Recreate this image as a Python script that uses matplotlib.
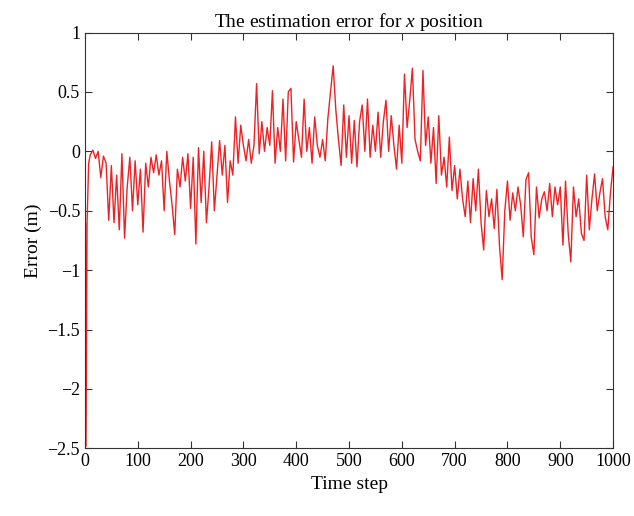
import matplotlib
matplotlib.use("Agg")
import matplotlib.pyplot as plt
import numpy as np

plt.rcParams['font.family'] = ['Liberation Serif', 'DejaVu Serif']
plt.rcParams['mathtext.fontset'] = 'custom'
plt.rcParams['mathtext.it'] = 'Liberation Serif:italic'
plt.rcParams['mathtext.rm'] = 'Liberation Serif'

# first few steps (fast transient)
t_start = [1, 2, 4, 7]
err_start = [-0.6, -2.48, -0.6, -0.1]

# then every 5 steps from 10 to 1000
t_main = np.arange(10, 1001, 5)
err_main = [
    -0.03, 0.01, -0.06, 0.0, -0.22, -0.04, -0.1, -0.58, -0.12, -0.6,
    -0.2, -0.66, -0.02, -0.73, -0.3, -0.05, -0.5, -0.08, -0.45, -0.15,
    -0.68, -0.1, -0.3, -0.05, -0.18, -0.03, -0.2, -0.08, -0.5, 0.0,
    -0.25, -0.45, -0.7, -0.15, -0.3, -0.05, -0.25, -0.02, -0.48, -0.05,
    -0.78, 0.03, -0.43, 0.0, -0.6, -0.3, 0.08, -0.5, -0.2, 0.09,
    -0.2, 0.05, -0.43, -0.08, -0.2, 0.29, -0.1, 0.22, 0.05, -0.08,
    0.1, -0.1, 0.05, 0.57, -0.02, 0.25, 0.0, 0.2, 0.05, 0.51,
    -0.1, 0.2, 0.0, 0.44, -0.08, 0.5, 0.53, -0.09, 0.25, 0.1,
    -0.05, 0.44, 0.0, 0.2, -0.1, 0.29, 0.05, -0.05, 0.1, -0.08,
    0.28, 0.5, 0.72, 0.35, 0.1, -0.12, 0.39, -0.05, 0.3, -0.1,
    0.26, -0.13, 0.25, 0.39, 0.0, 0.44, -0.05, 0.22, 0.0, 0.33,
    -0.05, 0.25, 0.43, 0.0, 0.3, 0.05, -0.15, 0.22, -0.1, 0.65,
    0.2, 0.43, 0.7, 0.1, 0.0, -0.08, 0.68, 0.05, 0.29, -0.1,
    0.2, -0.27, 0.3, -0.2, -0.05, -0.3, 0.12, -0.33, -0.12, -0.4,
    -0.15, -0.4, -0.55, -0.25, -0.6, -0.23, -0.5, -0.15, -0.6, -0.83,
    -0.33, -0.55, -0.4, -0.65, -0.32, -0.8, -1.08, -0.5, -0.25, -0.58,
    -0.35, -0.5, -0.3, -0.45, -0.72, -0.24, -0.18, -0.72, -0.87, -0.3,
    -0.56, -0.4, -0.34, -0.5, -0.27, -0.55, -0.3, -0.45, -0.3, -0.79,
    -0.25, -0.69, -0.93, -0.3, -0.55, -0.4, -0.69, -0.75, -0.2, -0.66,
    -0.4, -0.19, -0.5, -0.35, -0.23, -0.55, -0.66, -0.35, -0.13,
]

t = np.concatenate([t_start, t_main])
err = np.concatenate([err_start, err_main])

x_ticks = np.arange(0, 1001, 100)
y_ticks = [-2.5, -2, -1.5, -1, -0.5, 0, 0.5, 1]
y_labels = ['\u22122.5', '\u22122', '\u22121.5', '\u22121', '\u22120.5', '0', '0.5', '1']

fig = plt.figure(figsize=(6.34, 5.16), dpi=100)
ax = fig.add_axes([0.134, 0.131, 0.833, 0.806])
ax.plot(t, err, color='#ee2224', lw=1.0)

ax.set_xlim(0, 1000)
ax.set_ylim(-2.5, 1)
ax.set_xticks(x_ticks)
ax.set_yticks(y_ticks)
ax.set_yticklabels(y_labels)
ax.tick_params(direction='in', top=True, right=True, labelsize=13, length=5, color='#333333')
for s in ax.spines.values():
    s.set_color('#333333')
ax.set_xlabel('Time step', fontsize=14)
ax.set_ylabel('Error (m)', fontsize=14)
ax.set_title('The estimation error for $x$ position', fontsize=14, pad=4)

fig.savefig('out.png', dpi=100)
